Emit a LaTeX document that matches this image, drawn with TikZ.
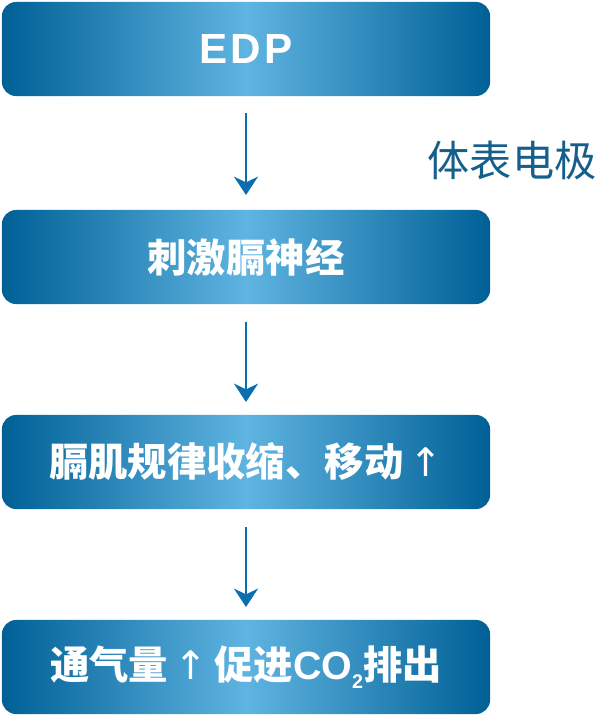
\documentclass[tikz,border=0pt]{standalone}
\usepackage{fontspec}
\newfontfamily\cjk{Noto Sans CJK SC}
\setsansfont{Liberation Sans}
\usetikzlibrary{positioning,arrows.meta}
\definecolor{boxdark}{RGB}{0,96,150}
\definecolor{boxlight}{RGB}{95,180,225}
\definecolor{arrowblue}{RGB}{10,110,175}
\definecolor{labelblue}{RGB}{20,95,140}
\begin{document}
\begin{tikzpicture}[x=0.025cm,y=-0.025cm]
        % Define styles
        \tikzset{stage/.style={rectangle, rounded corners=10pt, minimum width=12.2cm, minimum height=2.35cm, left color=boxdark, right color=boxdark, middle color=boxlight, text=white, font=\cjk\bfseries\fontsize{28}{32}\selectfont},
                 flow/.style={arrowblue, line width=2pt, -{Stealth[length=13pt,width=17pt,inset=4pt]}}}
        \useasboundingbox (0,0) rectangle (604,717);

        % Stages
        \node (edp) [stage] at (246,49) {\sffamily\fontsize{30}{34}\selectfont E\kern2pt D\kern2pt P};
        \node (stim) [stage] at (246,257) {刺激膈神经};
        \node (musc) [stage] at (246,462) {膈肌规律收缩、移动\,{\fontspec{DejaVu Sans}\mdseries ↑}};
        \node (vent) [stage] at (246,667) {通气量\,{\fontspec{DejaVu Sans}\mdseries ↑}\,促进{\sffamily CO\raisebox{-0.4ex}{\fontsize{14}{16}\selectfont 2}}排出};

        % Flow
        \draw[flow] (246,113) coordinate (a1) -- (246,195) coordinate (b1);
        \draw[flow] (246,322) coordinate (a2) -- (246,402) coordinate (b2);
        \draw[flow] (246,527) coordinate (a3) -- (246,607) coordinate (b3);
        \node (electrode) [text=labelblue, font=\cjk\fontsize{30}{34}\selectfont] at (512,160) {体表电极};
\end{tikzpicture}
\end{document}
